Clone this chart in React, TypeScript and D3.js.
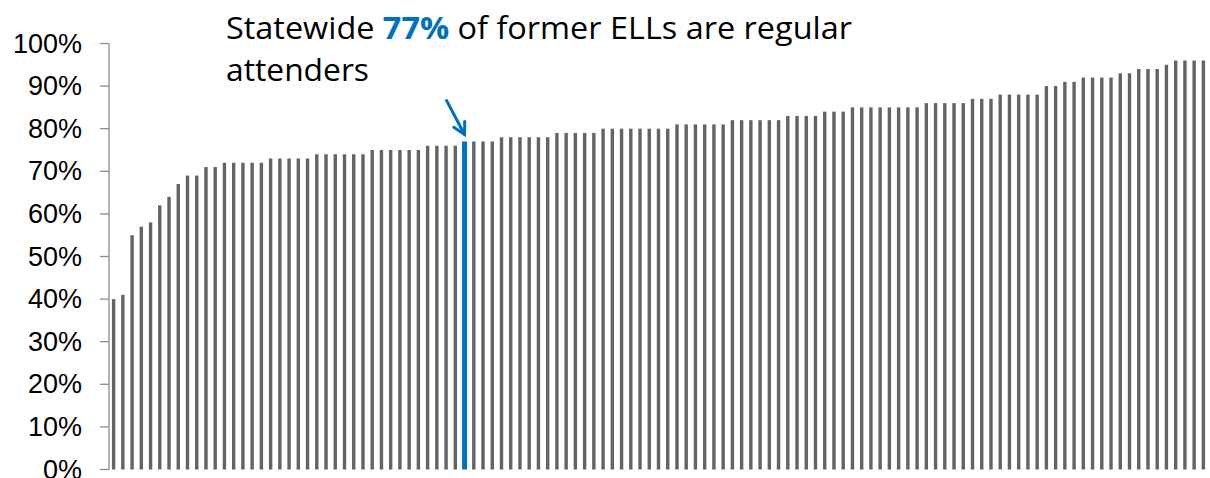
import React from "react";
import * as d3 from "d3";

// Regular attendance rate (%) of former ELLs, one bar per district, sorted ascending
const districts: string[] = Array.from({ length: 119 }, (_, i) => `D${i + 1}`);
const rates: number[] = [
  40, 41, 55, 57, 58, 62, 64, 67, 69, 69, 71, 71,
  72, 72, 72, 72, 72,
  73, 73, 73, 73, 73,
  74, 74, 74, 74, 74, 74,
  75, 75, 75, 75, 75, 75,
  76, 76, 76, 76,
  77,
  77, 77, 77,
  78, 78, 78, 78, 78, 78,
  79, 79, 79, 79, 79,
  80, 80, 80, 80, 80, 80, 80, 80,
  81, 81, 81, 81, 81, 81,
  82, 82, 82, 82, 82, 82,
  83, 83, 83, 83,
  84, 84, 84,
  85, 85, 85, 85, 85, 85, 85, 85,
  86, 86, 86, 86, 86,
  87, 87, 87,
  88, 88, 88, 88, 88,
  90, 90, 91, 91,
  92, 92, 92, 92,
  93, 93, 94, 94, 94, 95,
  96, 96, 96, 96,
];
const highlightIndex = 38; // statewide bar
const yTicks: number[] = [0, 10, 20, 30, 40, 50, 60, 70, 80, 90, 100];
const titleLine1a = "Statewide ";
const titleHighlight = "77%";
const titleLine1b = " of former ELLs are regular";
const titleLine2 = "attenders";

const W = 1210;
const H = 478;

export default function App() {
  const x = d3.scaleBand<string>().domain(districts).range([109, 1208]).paddingInner(0).paddingOuter(0);
  const y = d3.scaleLinear().domain([0, 100]).range([469.5, 43.5]);
  const greyW = 3.4;
  const blueW = 5;
  const hx = (x(districts[highlightIndex]) as number) + x.bandwidth() / 2;
  const hy = y(rates[highlightIndex]);
  // arrow geometry relative to highlighted bar top
  const tipX = hx;
  const tipY = hy - 7;
  const tailX = tipX - 18;
  const tailY = tipY - 34;
  const ang = Math.atan2(tipY - tailY, tipX - tailX);
  const headLen = 13;
  const headA = 0.5;
  const p1 = [tipX - headLen * Math.cos(ang - headA), tipY - headLen * Math.sin(ang - headA)];
  const p2 = [tipX - headLen * Math.cos(ang + headA), tipY - headLen * Math.sin(ang + headA)];

  return (
    <svg width={W} height={H} style={{ position: "absolute", left: 0, top: 0, background: "#fff" }}>
      {/* bars */}
      {rates.map((v, i) => {
        const cx = (x(districts[i]) as number) + x.bandwidth() / 2;
        const isH = i === highlightIndex;
        const w = isH ? blueW : greyW;
        return (
          <rect
            key={i}
            x={cx - w / 2}
            y={y(v)}
            width={w}
            height={y(0) - y(v)}
            fill={isH ? "#0070C0" : "#636363"}
          />
        );
      })}
      {/* y axis */}
      <line x1={109} x2={109} y1={y(0)} y2={y(100)} stroke="#8c8c8c" strokeWidth={1.3} />
      {yTicks.map((t) => (
        <g key={t}>
          <line x1={100} x2={109} y1={y(t)} y2={y(t)} stroke="#8c8c8c" strokeWidth={1.3} />
          <text
            x={82}
            y={y(t)}
            textAnchor="end"
            dominantBaseline="central"
            fontFamily="'Liberation Sans', Arial, sans-serif"
            fontSize={27}
            fill="#000"
          >
            {t}%
          </text>
        </g>
      ))}
      {/* annotation */}
      <text
        x={226}
        y={38.5}
        fontFamily="'Open Sans', 'Noto Sans', sans-serif"
        fontSize={31}
        fill="#000"
        textLength={626}
        lengthAdjust="spacingAndGlyphs"
      >
        <tspan>{titleLine1a}</tspan>
        <tspan fill="#0070C0" fontWeight="bold">{titleHighlight}</tspan>
        <tspan>{titleLine1b}</tspan>
      </text>
      <text
        x={226}
        y={80.5}
        fontFamily="'Open Sans', 'Noto Sans', sans-serif"
        fontSize={31}
        fill="#000"
        textLength={143}
        lengthAdjust="spacingAndGlyphs"
      >
        {titleLine2}
      </text>
      {/* arrow */}
      <g stroke="#0070C0" strokeWidth={3} fill="none" strokeLinecap="round">
        <line x1={tailX} y1={tailY} x2={tipX} y2={tipY} />
        <polyline points={`${p1[0]},${p1[1]} ${tipX},${tipY} ${p2[0]},${p2[1]}`} />
      </g>
    </svg>
  );
}
